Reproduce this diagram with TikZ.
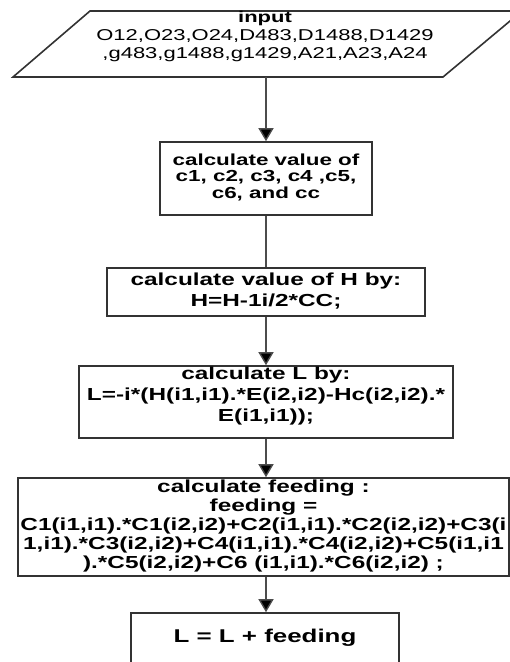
\documentclass[tikz,border=0pt]{standalone}
\usepackage{fontspec}
\setmainfont{Liberation Sans}
\usepackage{graphicx}
\usetikzlibrary{arrows.meta}
\newcommand\stx[3]{{\fontsize{#1}{#2}\selectfont\scalebox{1.4}[1]{\begin{tabular}{@{}c@{}}#3\end{tabular}}}}
\newcommand\stb[3]{{\bfseries\stx{#1}{#2}{#3}}}
\begin{document}
\begin{tikzpicture}[x=1pt,y=-1pt,
  box/.style={draw=black!80, line width=1.6pt, inner sep=0pt},
  conn/.style={draw=black!70, line width=1.4pt},
  arr/.style={conn,-{Triangle[width=15pt,length=13pt,fill=black]}}]
\useasboundingbox (0,0) rectangle (510,662);
\clip (0,0) rectangle (510,662);
% input parallelogram
\draw[draw=black!80, line width=1.6pt] (90,11) -- (522,11) -- (443,77) -- (13,77) -- cycle;
\node (in) at (265,37) {\stx{15.7}{18}{\bfseries input\\ O12,O23,O24,D483,D1488,D1429\\ ,g483,g1488,g1429,A21,A23,A24}};
\coordinate (inb) at (266,77);
\node[box, minimum width=212pt, minimum height=73pt] (b2) at (266,178.5)
  {\stb{16}{16.7}{calculate value of\\ c1, c2, c3, c4 ,c5,\\ c6, and cc}};
\node[box, minimum width=318pt, minimum height=48pt] (b3) at (266,292)
  {\stb{17.4}{21}{calculate value of H by:\\ H=H-1i/2*CC;}};
\node[box, minimum width=374pt, minimum height=72pt] (b4) at (266,402)
  {\raisebox{6pt}[\height][\depth]{\stb{17.4}{21}{calculate L by:\\ L=-i*(H(i1,i1).*E(i2,i2)-Hc(i2,i2).*\\ E(i1,i1));}}};
\node[box, minimum width=491pt, minimum height=98pt] (b5) at (263.5,527)
  {\stb{17.4}{19}{calculate feeding :\\ feeding =\\ C1(i1,i1).*C1(i2,i2)+C2(i1,i1).*C2(i2,i2)+C3(i\\ 1,i1).*C3(i2,i2)+C4(i1,i1).*C4(i2,i2)+C5(i1,i1\\ ).*C5(i2,i2)+C6 (i1,i1).*C6(i2,i2) ;}};
\node[box, minimum width=268pt, minimum height=51pt] (b6) at (265,638.5)
  {\stb{18.5}{20}{L = L + feeding}};
\draw[arr] (inb) -- (b2.north);
\draw[conn] (b2.south) -- (b3.north);
\draw[arr] (b3.south) -- (b4.north);
\draw[arr] (b4.south) -- (b4.south |- b5.north);
\draw[arr] (b5.south -| b4.south) -- (b4.south |- b6.north);
\end{tikzpicture}
\end{document}
